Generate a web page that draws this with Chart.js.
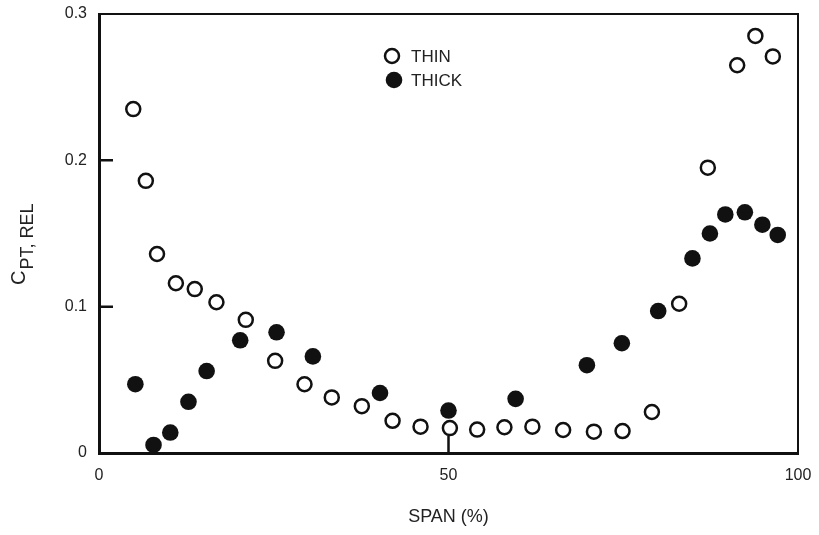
<!DOCTYPE html>
<html>
<head>
<meta charset="utf-8">
<title>CPT, REL vs span</title>
<script src="https://cdn.jsdelivr.net/npm/chart.js@4.4.0/dist/chart.umd.min.js"></script>
<style>
  html, body { margin: 0; padding: 0; background: #fff; }
  #wrap { width: 819px; height: 535px; }
</style>
</head>
<body>
<div id="wrap"><canvas id="myChart" width="819" height="535"></canvas></div>
<script>
// thin blade: span (%) and relative total pressure loss coefficient
const thinSpan = [4.9, 6.7, 8.3, 11.0, 13.7, 16.8, 21.0, 25.2, 29.4, 33.3, 37.6, 42.0, 46.0,
                  50.2, 54.1, 58.0, 62.0, 66.4, 70.8, 74.9, 79.1, 83.0, 87.1, 91.3, 93.9, 96.4];
const thinCpt = [0.235, 0.186, 0.136, 0.116, 0.112, 0.103, 0.091, 0.063, 0.047, 0.038, 0.032, 0.022, 0.018,
                 0.017, 0.016, 0.0176, 0.018, 0.0157, 0.0146, 0.015, 0.028, 0.102, 0.195, 0.265, 0.285, 0.271];

// thick blade
const thickSpan = [5.2, 7.8, 10.2, 12.8, 15.4, 20.2, 25.4, 30.6, 40.2, 50.0,
                   59.6, 69.8, 74.8, 80.0, 84.9, 87.4, 89.6, 92.4, 94.9, 97.1];
const thickCpt = [0.047, 0.0055, 0.014, 0.035, 0.056, 0.077, 0.0825, 0.066, 0.041, 0.029,
                  0.037, 0.060, 0.075, 0.097, 0.133, 0.150, 0.163, 0.1645, 0.156, 0.149];

const xTickLabels = ['0', '50', '100'];
const yTickLabels = ['0', '0.1', '0.2', '0.3'];

const FONT = "'Liberation Sans', Arial, Helvetica, sans-serif";
const INK = '#111';
const TEXT = '#222';

function toPoints(xs, ys) {
    return xs.map((x, i) => ({ x: x, y: ys[i] }));
}

// top and right frame lines plus the short inward ticks
const framePlugin = {
    id: 'frame',
    beforeDatasetsDraw(chart) {
        const { ctx, chartArea: a, scales } = chart;
        ctx.save();
        ctx.strokeStyle = INK;
        ctx.lineWidth = 2;
        ctx.beginPath();
        ctx.moveTo(a.left, a.top);
        ctx.lineTo(a.right, a.top);
        ctx.lineTo(a.right, a.bottom);
        ctx.stroke();

        ctx.lineWidth = 2.5;
        ctx.beginPath();
        scales.y.ticks.forEach(t => {
            if (t.value <= scales.y.min || t.value >= scales.y.max) return;
            const py = scales.y.getPixelForValue(t.value);
            ctx.moveTo(a.left, py);
            ctx.lineTo(a.left + 14, py);
        });
        scales.x.ticks.forEach(t => {
            if (t.value <= scales.x.min || t.value >= scales.x.max) return;
            const px = scales.x.getPixelForValue(t.value);
            ctx.moveTo(px, a.bottom);
            ctx.lineTo(px, a.bottom - 17);
        });
        ctx.stroke();
        ctx.restore();
    }
};

// legend inside the plot, and the y title with its subscript
const notesPlugin = {
    id: 'notes',
    afterDraw(chart) {
        const { ctx } = chart;
        ctx.save();

        const rows = [
            { ds: chart.data.datasets[0], x: 392, y: 56 },
            { ds: chart.data.datasets[1], x: 394, y: 80 }
        ];
        ctx.font = '17px ' + FONT;
        ctx.textBaseline = 'middle';
        ctx.textAlign = 'left';
        rows.forEach(r => {
            ctx.beginPath();
            ctx.arc(r.x, r.y, r.ds.pointRadius, 0, Math.PI * 2);
            ctx.fillStyle = r.ds.backgroundColor;
            ctx.fill();
            if (r.ds.borderWidth > 0) {
                ctx.lineWidth = r.ds.borderWidth;
                ctx.strokeStyle = r.ds.borderColor;
                ctx.stroke();
            }
            ctx.fillStyle = TEXT;
            ctx.fillText(r.ds.label, 411, r.y + 1);
        });

        // C with subscript PT, REL
        ctx.translate(25, 285);
        ctx.rotate(-Math.PI / 2);
        ctx.fillStyle = TEXT;
        ctx.textBaseline = 'alphabetic';
        ctx.font = '20px ' + FONT;
        ctx.fillText('C', 0, 0);
        const cw = ctx.measureText('C').width;
        ctx.font = '18px ' + FONT;
        ctx.fillText('PT, REL', cw + 1, 8);
        ctx.restore();
    }
};

const ctx = document.getElementById('myChart').getContext('2d');

const myChart = new Chart(ctx, {
    type: 'scatter',
    data: {
        datasets: [{
            label: 'THIN',
            data: toPoints(thinSpan, thinCpt),
            pointStyle: 'circle',
            pointRadius: 7,
            pointHoverRadius: 7,
            backgroundColor: '#fff',
            borderColor: INK,
            borderWidth: 2.5,
            clip: false
        }, {
            label: 'THICK',
            data: toPoints(thickSpan, thickCpt),
            pointStyle: 'circle',
            pointRadius: 8.3,
            pointHoverRadius: 8.3,
            backgroundColor: INK,
            borderColor: INK,
            borderWidth: 0,
            clip: false
        }]
    },
    options: {
        responsive: false,
        animation: false,
        events: [],
        layout: {
            padding: { top: 14, right: 21, left: 0, bottom: 0 }
        },
        scales: {
            x: {
                type: 'linear',
                min: 0,
                max: 100,
                afterFit: s => { s.height = 82; s.paddingLeft = 0; s.paddingRight = 0; },
                grid: { display: false, drawTicks: false },
                border: { display: true, color: INK, width: 3 },
                ticks: {
                    stepSize: 50,
                    padding: 13,
                    color: TEXT,
                    font: { family: FONT, size: 16 },
                    callback: (v, i) => xTickLabels[i]
                },
                title: {
                    display: true,
                    text: 'SPAN (%)',
                    color: TEXT,
                    font: { family: FONT, size: 18 },
                    padding: { top: 0, bottom: 7 }
                }
            },
            y: {
                type: 'linear',
                min: 0,
                max: 0.3,
                afterFit: s => { s.width = 99; s.paddingTop = 0; s.paddingBottom = 0; },
                grid: { display: false, drawTicks: false },
                border: { display: true, color: INK, width: 3 },
                ticks: {
                    stepSize: 0.1,
                    padding: 12,
                    color: TEXT,
                    font: { family: FONT, size: 16 },
                    callback: (v, i) => yTickLabels[i]
                }
            }
        },
        plugins: {
            legend: { display: false },
            tooltip: { enabled: false }
        }
    },
    plugins: [framePlugin, notesPlugin]
});
</script>
</body>
</html>
